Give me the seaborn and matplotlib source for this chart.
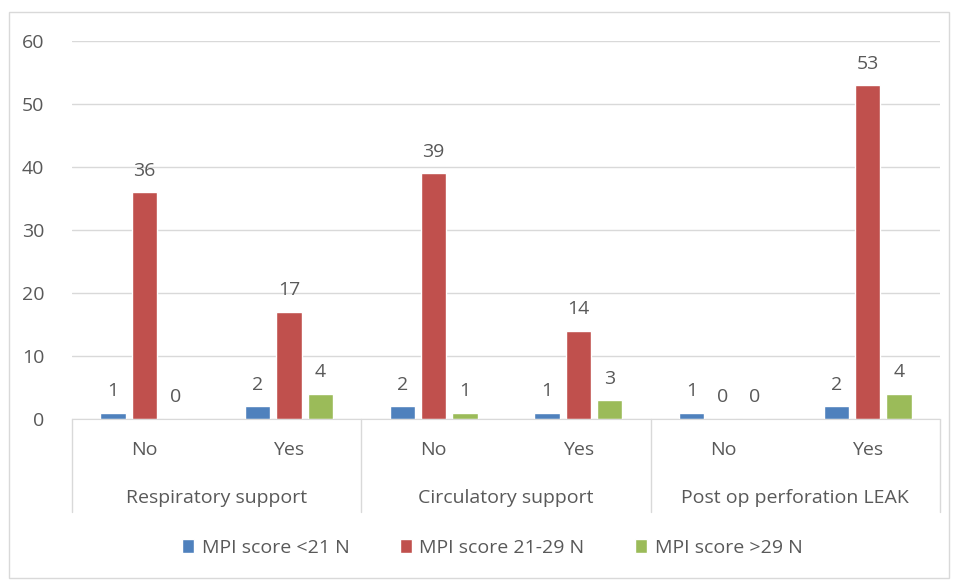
import pandas as pd
import seaborn as sns
import matplotlib.pyplot as plt
from matplotlib.patches import Rectangle

# dane z wykresu
groups = ["Respiratory support", "Circulatory support", "Post op perforation LEAK"]
answers = ["No", "Yes"]
series = ["MPI score <21 N", "MPI score 21-29 N", "MPI score >29 N"]
low = [1, 2, 2, 1, 1, 2]
mid = [36, 17, 39, 14, 0, 53]
high = [0, 4, 1, 3, 0, 4]
colors = ["#4F81BD", "#C0504D", "#9BBB59"]

cats = [f"{g}|{a}" for g in groups for a in answers]
rows = []
for name, vals in zip(series, [low, mid, high]):
    for c, v in zip(cats, vals):
        rows.append({"cat": c, "seria": name, "n": v})
df = pd.DataFrame(rows)

sns.set_style("white")
plt.rcParams["font.family"] = ["Open Sans", "DejaVu Sans"]
txt = "#595959"
fs = 14

fig = plt.figure(figsize=(9.56, 5.8), dpi=100)
ax = fig.add_axes([72 / 956, 1 - 419 / 580, 868 / 956, 378 / 580])

sns.barplot(data=df, x="cat", y="n", hue="seria", order=cats, hue_order=series,
            palette=colors, saturation=1, width=0.65, gap=0.2, ax=ax, legend=True)

for cont in ax.containers:
    ax.bar_label(cont, padding=9, fontsize=fs, color=txt)

ax.set_ylim(0, 60)
ax.set_yticks(range(0, 61, 10))
ax.set_xlim(-0.5, len(cats) - 0.5)
ax.yaxis.grid(True, color="#D9D9D9", linewidth=1)
ax.set_axisbelow(True)
for s in ["top", "right", "left"]:
    ax.spines[s].set_visible(False)
ax.spines["bottom"].set_color("#D9D9D9")
ax.set_xlabel("")
ax.set_ylabel("")
ax.set_xticks(range(len(cats)))
ax.set_xticklabels([c.split("|")[1] for c in cats])
ax.tick_params(axis="x", length=0, pad=16, labelsize=fs, labelcolor=txt)
ax.tick_params(axis="y", length=0, pad=20, labelsize=fs, labelcolor=txt)

# linie podzialu kategorii i etykiety grup
tr = ax.get_xaxis_transform()
for i in range(len(groups) + 1):
    ax.plot([i * 2 - 0.5] * 2, [0, -93 / 378], transform=tr, color="#D9D9D9",
            lw=1, clip_on=False)
for i, g in enumerate(groups):
    ax.text(i * 2 + 0.5, -79 / 378, g, transform=tr, ha="center", va="center",
            fontsize=fs, color=txt)

handles, labels = ax.get_legend_handles_labels()
ax.get_legend().remove()
fig.legend(handles, labels, loc="center", bbox_to_anchor=(0.515, 1 - 548 / 580),
           ncol=3, frameon=False, fontsize=fs, labelcolor=txt,
           handlelength=0.6, handleheight=0.7, handletextpad=0.4, columnspacing=2.6)

fig.patches.append(Rectangle((9 / 956, 2 / 580), 940 / 956, 566 / 580,
                             transform=fig.transFigure, fill=False,
                             edgecolor="#D9D9D9", lw=1))

fig.savefig("out.png", dpi=100)
